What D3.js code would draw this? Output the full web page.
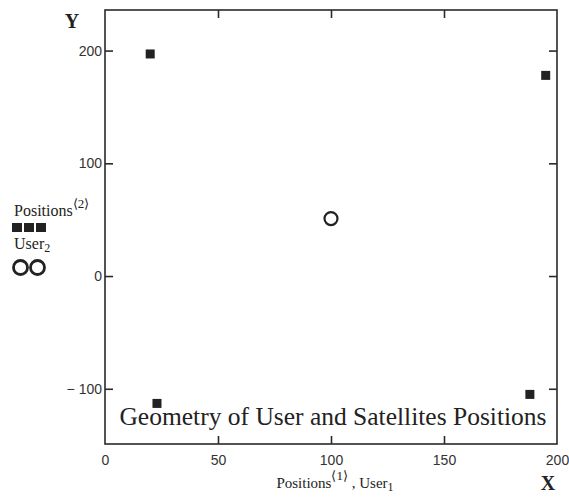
<!DOCTYPE html>
<html><head><meta charset="utf-8">
<script src="https://cdn.jsdelivr.net/npm/d3@7"></script>
<style>body{margin:0;background:#fff}svg{display:block}</style>
</head><body>
<svg id="c" width="569" height="499"></svg>
<script>
const satX = [20, 195, 23, 188];
const satY = [197, 178, -113, -105];
const userX = [100];
const userY = [51];
const xTicks = [0, 50, 100, 150, 200];
const yTicks = [-100, 0, 100, 200];
const title = "Geometry of User and Satellites Positions";

const svg = d3.select("#c");
const L = 105, R = 557, T = 10, B = 444;
const x = d3.scaleLinear().domain([0, 200]).range([L, R]);
const y = d3.scaleLinear().domain([-149, 236]).range([B, T]);
const ink = "#2a2a2a";
const sans = "'Liberation Sans Narrow','Liberation Sans',Arial,sans-serif";
const serif = "'Liberation Serif','Times New Roman',serif";

svg.append("rect").attr("x", L).attr("y", T).attr("width", R - L).attr("height", B - T)
  .attr("fill", "none").attr("stroke", ink).attr("stroke-width", 1.6);

function styleAxis(g, showText) {
  g.select(".domain").remove();
  g.selectAll(".tick line").attr("stroke", ink).attr("stroke-width", 1.6);
  g.selectAll(".tick text").attr("fill", "#333").style("font-family", sans).style("font-size", "14px");
  if (!showText) g.selectAll(".tick text").remove();
}
const fmt = d => d < 0 ? "\u2212 " + Math.abs(d) : String(d);

svg.append("g").attr("transform", `translate(0,${B})`)
  .call(d3.axisBottom(x).tickValues(xTicks).tickSize(-8).tickPadding(11).tickFormat(fmt))
  .call(g => styleAxis(g, true))
  .call(g => g.selectAll(".tick line").filter(d => d === 0 || d === 200).remove());
svg.append("g").attr("transform", `translate(0,${T})`)
  .call(d3.axisTop(x).tickValues(xTicks.filter(d => d > 0 && d < 200)).tickSize(-8))
  .call(g => styleAxis(g, false));
svg.append("g").attr("transform", `translate(${L},0)`)
  .call(d3.axisLeft(y).tickValues(yTicks).tickSize(-8).tickPadding(3).tickFormat(fmt))
  .call(g => styleAxis(g, true));
svg.append("g").attr("transform", `translate(${R},0)`)
  .call(d3.axisRight(y).tickValues(yTicks).tickSize(-8))
  .call(g => styleAxis(g, false));

const sq = 9;
svg.append("g").selectAll("rect").data(satX.map((d, i) => [d, satY[i]])).join("rect")
  .attr("x", d => x(d[0]) - sq / 2).attr("y", d => y(d[1]) - sq / 2)
  .attr("width", sq).attr("height", sq).attr("fill", "#222");

svg.append("g").selectAll("circle").data(userX.map((d, i) => [d, userY[i]])).join("circle")
  .attr("cx", d => x(d[0])).attr("cy", d => y(d[1])).attr("r", 6.5)
  .attr("fill", "none").attr("stroke", "#222").attr("stroke-width", 2.2);

svg.append("text").attr("x", 333).attr("y", 425).attr("text-anchor", "middle")
  .style("font-family", serif).style("font-size", "25.5px").attr("fill", "#222").text(title);

svg.append("text").attr("x", 72).attr("y", 28).attr("text-anchor", "middle")
  .style("font-family", serif).style("font-size", "20px").style("font-weight", "bold").attr("fill", "#222").text("Y");
svg.append("text").attr("x", 548).attr("y", 490).attr("text-anchor", "middle")
  .style("font-family", serif).style("font-size", "20px").style("font-weight", "bold").attr("fill", "#222").text("X");

const xl = svg.append("text").attr("x", 335).attr("y", 488).attr("text-anchor", "middle")
  .style("font-family", serif).style("font-size", "15px").attr("fill", "#222");
xl.append("tspan").text("Positions");
xl.append("tspan").attr("dy", -8).style("font-size", "13px").text("\u27E81\u27E9");
xl.append("tspan").attr("dy", 8).text(" , User");
xl.append("tspan").attr("dy", 3).style("font-size", "12px").text("1");

const ll = svg.append("text").attr("x", 14).attr("y", 216)
  .style("font-family", serif).style("font-size", "16px").attr("fill", "#222");
ll.append("tspan").text("Positions");
ll.append("tspan").attr("dy", -8).style("font-size", "13px").text("\u27E82\u27E9");
svg.append("g").selectAll("rect").data([0, 1, 2]).join("rect")
  .attr("x", d => 12 + d * 12).attr("y", 223).attr("width", 10).attr("height", 9).attr("fill", "#222");
const ul = svg.append("text").attr("x", 14).attr("y", 249)
  .style("font-family", serif).style("font-size", "16px").attr("fill", "#222");
ul.append("tspan").text("User");
ul.append("tspan").attr("dy", 3).style("font-size", "12px").text("2");
svg.append("g").selectAll("circle").data([0, 1]).join("circle")
  .attr("cx", d => 20.5 + d * 17).attr("cy", 267.5).attr("r", 7)
  .attr("fill", "none").attr("stroke", "#222").attr("stroke-width", 2.8);
</script>
</body></html>
